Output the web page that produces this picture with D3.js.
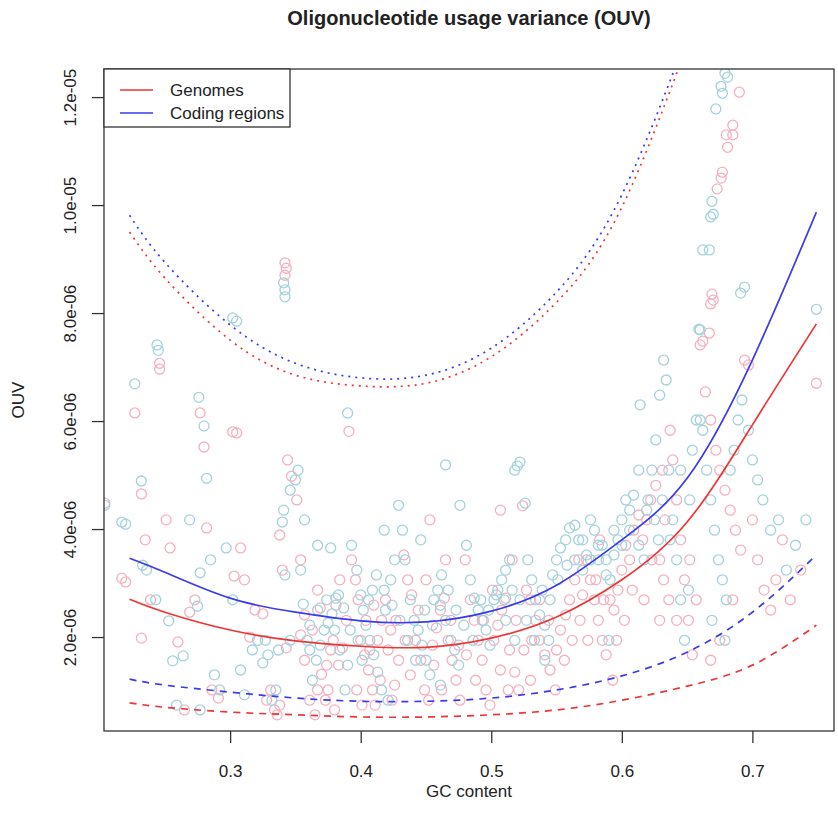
<!DOCTYPE html>
<html>
<head>
<meta charset="utf-8">
<script src="https://cdn.jsdelivr.net/npm/d3@7"></script>
<style>
  body { margin: 0; background: #fff; }
  text { font-family: "Liberation Sans", Arial, Helvetica, sans-serif; fill: #222; }
</style>
</head>
<body>
<script>
// OUV values are in units of 1e-6
const xTicks = [0.3, 0.4, 0.5, 0.6, 0.7];
const yTicks = [2, 4, 6, 8, 10, 12];

// fitted curves, read at these GC values
const fitGC = [0.223, 0.25, 0.3, 0.35, 0.4, 0.45, 0.5, 0.55, 0.6, 0.65, 0.7, 0.749];
const genomeFit      = [2.70, 2.46, 2.13, 1.93, 1.83, 1.81, 1.98, 2.37, 3.06, 4.13, 5.93, 7.80];
const codingFit      = [3.46, 3.20, 2.72, 2.46, 2.30, 2.28, 2.48, 2.96, 3.80, 4.94, 7.13, 9.87];
const genomeLower    = [0.78, 0.70, 0.61, 0.56, 0.52, 0.52, 0.56, 0.65, 0.83, 1.09, 1.48, 2.22];
const codingLower    = [1.22, 1.11, 0.98, 0.87, 0.81, 0.81, 0.87, 1.02, 1.28, 1.72, 2.46, 3.52];

const upperGC     = [0.223, 0.25, 0.3, 0.35, 0.4, 0.45, 0.5, 0.55, 0.6, 0.65, 0.67];
const genomeUpper = [9.50, 8.65, 7.50, 6.85, 6.65, 6.70, 7.19, 8.20, 9.96, 12.96, 14.2];
const codingUpper = [9.81, 8.94, 7.78, 7.07, 6.80, 6.85, 7.35, 8.39, 10.19, 13.15, 14.6];

// [GC content, OUV]
const genomePoints = [
  [0.204,4.48],[0.217,3.09],[0.220,3.02],[0.227,6.15],[0.232,4.65],[0.232,1.98],[0.235,3.80],[0.239,2.69],
  [0.246,7.07],[0.246,6.96],[0.251,4.17],[0.254,3.65],[0.260,1.91],[0.265,0.65],[0.269,2.46],[0.273,2.69],
  [0.277,6.15],[0.280,5.52],[0.282,4.02],[0.286,1.02],[0.291,0.87],[0.302,5.80],[0.305,5.78],[0.303,3.13],
  [0.308,3.65],[0.311,3.06],[0.315,2.00],[0.319,2.50],[0.325,2.43],[0.328,0.83],[0.331,1.02],[0.334,0.65],
  [0.336,0.56],[0.338,3.89],[0.338,0.74],[0.340,3.24],[0.342,8.93],[0.343,8.83],[0.342,8.70],[0.343,1.80],
  [0.344,5.28],[0.347,4.98],[0.351,4.54],[0.354,2.04],[0.357,1.57],[0.361,0.83],[0.365,0.56],[0.367,1.02],
  [0.370,1.31],[0.374,1.48],[0.377,1.76],[0.379,1.94],[0.381,2.59],[0.384,3.06],[0.354,3.43],[0.367,2.87],
  [0.373,0.83],[0.380,0.65],[0.386,1.80],[0.391,5.81],[0.393,3.43],[0.396,3.06],[0.400,1.94],[0.403,1.67],
  [0.406,1.39],[0.409,1.02],[0.411,0.74],[0.413,1.94],[0.416,2.31],[0.419,2.69],[0.421,1.76],[0.424,0.83],
  [0.426,1.11],[0.429,1.57],[0.398,2.69],[0.404,2.31],[0.410,2.59],[0.423,2.13],[0.433,3.52],[0.436,3.06],
  [0.439,2.78],[0.442,1.94],[0.446,1.57],[0.449,1.02],[0.452,0.83],[0.455,1.85],[0.458,2.17],[0.461,2.50],
  [0.464,2.72],[0.467,1.94],[0.470,1.57],[0.473,1.20],[0.476,0.83],[0.453,4.17],[0.465,3.43],[0.480,3.43],
  [0.484,2.69],[0.487,2.31],[0.490,1.94],[0.493,1.57],[0.496,1.02],[0.499,0.74],[0.502,1.94],[0.505,2.22],
  [0.508,2.50],[0.511,2.72],[0.514,1.76],[0.518,1.35],[0.521,1.02],[0.507,4.35],[0.516,3.43],[0.524,4.43],
  [0.527,2.87],[0.530,2.69],[0.534,2.31],[0.537,1.94],[0.541,1.67],[0.545,1.39],[0.549,1.02],[0.553,2.13],
  [0.557,2.41],[0.560,2.69],[0.564,3.06],[0.567,3.43],[0.530,1.20],[0.570,2.78],[0.573,3.43],[0.576,3.06],
  [0.579,2.69],[0.582,2.31],[0.585,1.94],[0.588,1.67],[0.591,2.69],[0.594,2.50],[0.597,2.87],[0.600,3.24],
  [0.603,3.70],[0.606,3.43],[0.609,3.98],[0.613,4.26],[0.583,3.80],[0.593,1.20],[0.616,3.80],[0.619,4.17],
  [0.622,4.54],[0.626,4.81],[0.629,3.43],[0.631,5.09],[0.633,4.17],[0.636,2.69],[0.637,5.83],[0.639,5.28],
  [0.642,4.54],[0.645,3.80],[0.648,3.06],[0.651,2.31],[0.654,1.67],[0.657,2.69],[0.629,2.31],
  [0.690,12.09],[0.685,11.48],[0.680,11.30],[0.685,11.30],[0.681,11.07],[0.677,10.61],[0.676,10.50],[0.673,10.30],
  [0.669,8.35],[0.670,8.24],[0.668,8.17],[0.667,7.63],[0.662,7.48],[0.660,7.41],[0.664,6.54],[0.668,6.02],
  [0.672,5.46],[0.675,5.09],[0.679,4.72],[0.683,4.35],[0.687,3.98],[0.691,3.61],[0.694,7.13],[0.697,7.04],
  [0.700,4.17],[0.704,3.43],[0.709,2.87],[0.714,2.50],[0.718,3.06],[0.723,3.80],[0.729,2.69],[0.737,3.24],
  [0.749,6.70],[0.685,2.69],[0.675,1.94],[0.668,1.57],
  [0.357,2.41],[0.363,2.13],[0.369,2.54],[0.375,1.02],[0.383,1.48],[0.389,2.31],[0.397,1.02],[0.401,0.74],
  [0.407,1.76],[0.415,1.20],[0.427,2.31],[0.434,1.94],[0.438,1.30],[0.444,2.50],[0.450,3.06],[0.456,1.48],
  [0.462,1.02],[0.469,2.31],[0.475,1.85],[0.481,1.67],[0.488,1.20],[0.494,2.31],[0.501,2.87],[0.507,1.39],
  [0.513,1.02],[0.519,2.31],[0.525,1.76],[0.531,1.94],[0.537,2.69],[0.544,2.31],[0.550,1.76],[0.556,1.57],
  [0.562,1.94],[0.568,2.31],[0.574,1.94],[0.580,3.06],[0.586,2.69],[0.596,1.94],[0.602,2.31],[0.608,2.87],
  [0.617,2.69],[0.623,3.43],[0.632,3.06],[0.642,2.31],[0.652,3.43]
];

const codingPoints = [
  [0.204,4.44],[0.217,4.13],[0.220,4.09],[0.227,6.69],[0.232,4.89],[0.233,3.33],[0.236,3.24],[0.243,2.69],
  [0.244,7.41],[0.245,7.31],[0.253,2.30],[0.256,1.56],[0.259,0.74],[0.264,1.65],[0.269,4.17],[0.275,2.57],
  [0.276,6.44],[0.277,3.19],[0.280,5.91],[0.282,4.94],[0.285,3.43],[0.288,1.30],[0.292,1.02],[0.277,0.65],
  [0.302,7.91],[0.305,7.85],[0.297,3.65],[0.302,2.69],[0.308,1.39],[0.311,0.93],[0.317,1.76],[0.321,1.94],
  [0.325,1.52],[0.327,1.94],[0.329,1.67],[0.332,0.83],[0.335,1.02],[0.337,1.76],[0.340,4.13],[0.341,4.35],
  [0.341,8.56],[0.342,8.43],[0.342,8.30],[0.342,3.15],[0.346,1.94],[0.346,4.72],[0.350,4.91],[0.352,5.09],
  [0.354,3.24],[0.356,2.61],[0.359,1.94],[0.361,1.76],[0.363,1.20],[0.366,1.57],[0.369,1.85],[0.372,2.13],
  [0.375,2.26],[0.378,2.43],[0.381,2.72],[0.383,2.78],[0.387,2.54],[0.357,4.17],[0.367,3.70],[0.377,3.65],
  [0.388,1.02],[0.390,1.48],[0.390,6.15],[0.393,3.70],[0.397,3.24],[0.400,2.78],[0.402,2.50],[0.404,2.22],
  [0.407,1.94],[0.410,1.67],[0.413,1.35],[0.416,1.02],[0.419,2.50],[0.423,3.06],[0.426,3.43],[0.429,4.44],
  [0.418,3.98],[0.409,2.87],[0.401,1.57],[0.421,0.83],[0.432,3.98],[0.434,3.43],[0.438,2.69],[0.441,2.31],
  [0.444,2.13],[0.447,1.85],[0.450,1.57],[0.453,1.30],[0.456,2.69],[0.459,2.87],[0.462,3.15],[0.465,2.31],
  [0.469,1.94],[0.472,1.76],[0.475,1.48],[0.476,4.44],[0.446,3.80],[0.461,1.11],[0.465,5.19],[0.481,3.70],
  [0.484,3.06],[0.487,2.72],[0.490,2.50],[0.493,2.31],[0.496,2.13],[0.499,1.85],[0.502,2.69],[0.505,2.87],
  [0.508,3.06],[0.511,3.24],[0.514,3.43],[0.518,5.09],[0.520,5.17],[0.522,5.24],[0.511,2.31],[0.518,1.94],
  [0.526,4.48],[0.528,3.43],[0.531,3.06],[0.534,2.69],[0.537,2.41],[0.541,2.22],[0.544,1.94],[0.547,3.15],
  [0.550,3.43],[0.553,3.65],[0.557,3.80],[0.560,4.02],[0.564,4.07],[0.567,3.80],[0.541,1.57],[0.570,3.80],
  [0.573,3.52],[0.576,4.17],[0.579,3.98],[0.582,3.43],[0.585,3.70],[0.588,3.15],[0.591,3.06],[0.594,3.52],
  [0.597,3.80],[0.600,4.17],[0.603,4.54],[0.606,4.35],[0.609,4.63],[0.613,5.09],[0.614,6.30],[0.590,1.94],
  [0.617,3.43],[0.620,4.54],[0.623,5.09],[0.626,5.65],[0.628,3.80],[0.629,6.48],[0.632,7.13],[0.634,6.76],
  [0.636,5.09],[0.639,4.17],[0.642,3.43],[0.645,2.69],[0.648,1.94],[0.651,2.87],[0.654,5.46],[0.657,6.02],
  [0.660,7.69],[0.660,6.02],
  [0.679,12.44],[0.681,12.37],[0.676,12.20],[0.677,12.07],[0.672,11.78],[0.669,10.07],[0.670,9.83],[0.668,9.78],
  [0.662,9.17],[0.667,9.17],[0.694,8.48],[0.691,8.37],[0.749,8.07],[0.659,7.70],[0.662,5.83],[0.665,5.09],
  [0.668,4.54],[0.671,3.98],[0.674,3.43],[0.677,3.06],[0.680,2.69],[0.683,5.09],[0.686,5.46],[0.689,6.02],
  [0.692,6.39],[0.697,5.83],[0.700,5.28],[0.704,4.91],[0.708,4.54],[0.714,3.98],[0.720,4.17],[0.726,3.24],
  [0.733,3.70],[0.741,4.17],[0.669,2.31],[0.679,1.94],
  [0.361,2.22],[0.367,2.50],[0.374,2.69],[0.380,2.13],[0.384,1.76],[0.392,2.13],[0.398,1.94],[0.406,2.69],
  [0.412,3.15],[0.418,2.87],[0.424,2.59],[0.430,2.31],[0.436,1.94],[0.442,1.57],[0.449,2.50],[0.455,2.22],
  [0.461,2.59],[0.467,2.87],[0.473,2.50],[0.479,2.22],[0.486,1.94],[0.492,2.69],[0.498,2.50],[0.504,2.78],
  [0.510,2.69],[0.516,2.87],[0.522,2.69],[0.527,2.31],[0.533,1.94],[0.539,2.87],[0.545,2.69],[0.551,3.06],
  [0.558,3.33],[0.564,3.43],[0.570,3.24],[0.576,3.43],[0.582,3.70],[0.588,3.43],[0.594,3.98],[0.600,3.70],
  [0.606,3.98],[0.613,3.70],[0.619,4.35],[0.625,4.17],[0.631,4.54],[0.637,3.80],[0.645,5.09],[0.652,4.54]
];

const WIDTH = 838, HEIGHT = 830;
const MARGIN = { top: 69, right: 4, bottom: 99, left: 104 };

const x = d3.scaleLinear()
  .domain([0.2034, 0.7625])
  .range([MARGIN.left, WIDTH - MARGIN.right]);

const y = d3.scaleLinear()
  .domain([0.26, 12.52])
  .range([HEIGHT - MARGIN.bottom, MARGIN.top]);

const svg = d3.select('body').append('svg')
  .attr('width', WIDTH)
  .attr('height', HEIGHT);

svg.append('clipPath').attr('id', 'plot')
  .append('rect')
    .attr('x', MARGIN.left).attr('y', MARGIN.top)
    .attr('width', x.range()[1] - x.range()[0])
    .attr('height', y.range()[0] - y.range()[1]);

const plot = svg.append('g').attr('clip-path', 'url(#plot)');

// points
const drawPoints = (data, color) => plot.append('g')
  .selectAll('circle')
  .data(data)
  .enter().append('circle')
    .attr('cx', (d) => x(d[0]))
    .attr('cy', (d) => y(d[1]))
    .attr('r', 5)
    .attr('fill', 'none')
    .attr('stroke', color)
    .attr('stroke-width', 1.3);

drawPoints(genomePoints, '#f5b0be');
drawPoints(codingPoints, '#a3d2de');

// curves
const drawCurve = (gcs, vals, color, dash) => plot.append('path')
  .datum(gcs.map((g, i) => [g, vals[i]]))
  .attr('fill', 'none')
  .attr('stroke', color)
  .attr('stroke-width', 1.7)
  .attr('stroke-dasharray', dash)
  .attr('d', d3.line().x((d) => x(d[0])).y((d) => y(d[1])).curve(d3.curveNatural));

const RED = '#ee3535', BLUE = '#3a3aee';

drawCurve(upperGC, genomeUpper, RED, '2 5');
drawCurve(upperGC, codingUpper, BLUE, '2 5');
drawCurve(fitGC, genomeLower, RED, '7 6');
drawCurve(fitGC, codingLower, BLUE, '7 6');
drawCurve(fitGC, genomeFit, RED, null);
drawCurve(fitGC, codingFit, BLUE, null);

// box
svg.append('rect')
  .attr('x', MARGIN.left).attr('y', MARGIN.top)
  .attr('width', x.range()[1] - x.range()[0])
  .attr('height', y.range()[0] - y.range()[1])
  .attr('fill', 'none')
  .attr('stroke', '#333')
  .attr('stroke-width', 1.3);

// axes
const fmtY = (v) => (v * 1e-6).toExponential(1).replace(/e([+-])(\d)$/, 'e$10$2');

const xAxis = svg.append('g')
  .attr('transform', `translate(0, ${y.range()[0]})`)
  .call(d3.axisBottom(x).tickValues(xTicks).tickSize(12).tickPadding(22).tickFormat(d3.format('.1f')));

const yAxis = svg.append('g')
  .attr('transform', `translate(${MARGIN.left}, 0)`)
  .call(d3.axisLeft(y).tickValues(yTicks).tickSize(12).tickFormat(fmtY));

[xAxis, yAxis].forEach((a) => {
  a.attr('font-size', null).attr('font-family', null);
  a.select('.domain').remove();
  a.selectAll('.tick line').attr('stroke', '#333').attr('stroke-width', 1.3);
  a.selectAll('text').style('font-size', '17px').attr('fill', '#222');
});

yAxis.selectAll('.tick text')
  .attr('transform', 'rotate(-90)')
  .attr('x', 0)
  .attr('y', -28)
  .attr('dy', 0)
  .attr('text-anchor', 'middle');

// titles
svg.append('text')
  .attr('x', (x.range()[0] + x.range()[1]) / 2)
  .attr('y', 25)
  .attr('text-anchor', 'middle')
  .style('font-size', '20px')
  .style('font-weight', 'bold')
  .text('Oligonucleotide usage variance (OUV)');

svg.append('text')
  .attr('x', (x.range()[0] + x.range()[1]) / 2)
  .attr('y', 797)
  .attr('text-anchor', 'middle')
  .style('font-size', '17px')
  .text('GC content');

svg.append('text')
  .attr('transform', `translate(24, ${(y.range()[0] + y.range()[1]) / 2}) rotate(-90)`)
  .attr('text-anchor', 'middle')
  .style('font-size', '17px')
  .text('OUV');

// legend
const legend = svg.append('g');

legend.append('rect')
  .attr('x', MARGIN.left).attr('y', MARGIN.top)
  .attr('width', 186).attr('height', 58)
  .attr('fill', '#fff')
  .attr('stroke', '#333')
  .attr('stroke-width', 1.3);

[['Genomes', RED], ['Coding regions', BLUE]].forEach(([label, color], i) => {
  const ly = 90 + i * 23;
  legend.append('line')
    .attr('x1', 120).attr('x2', 153)
    .attr('y1', ly).attr('y2', ly)
    .attr('stroke', color).attr('stroke-width', 1.7);
  legend.append('text')
    .attr('x', 170).attr('y', ly + 6)
    .style('font-size', '17px')
    .text(label);
});
</script>
</body>
</html>
